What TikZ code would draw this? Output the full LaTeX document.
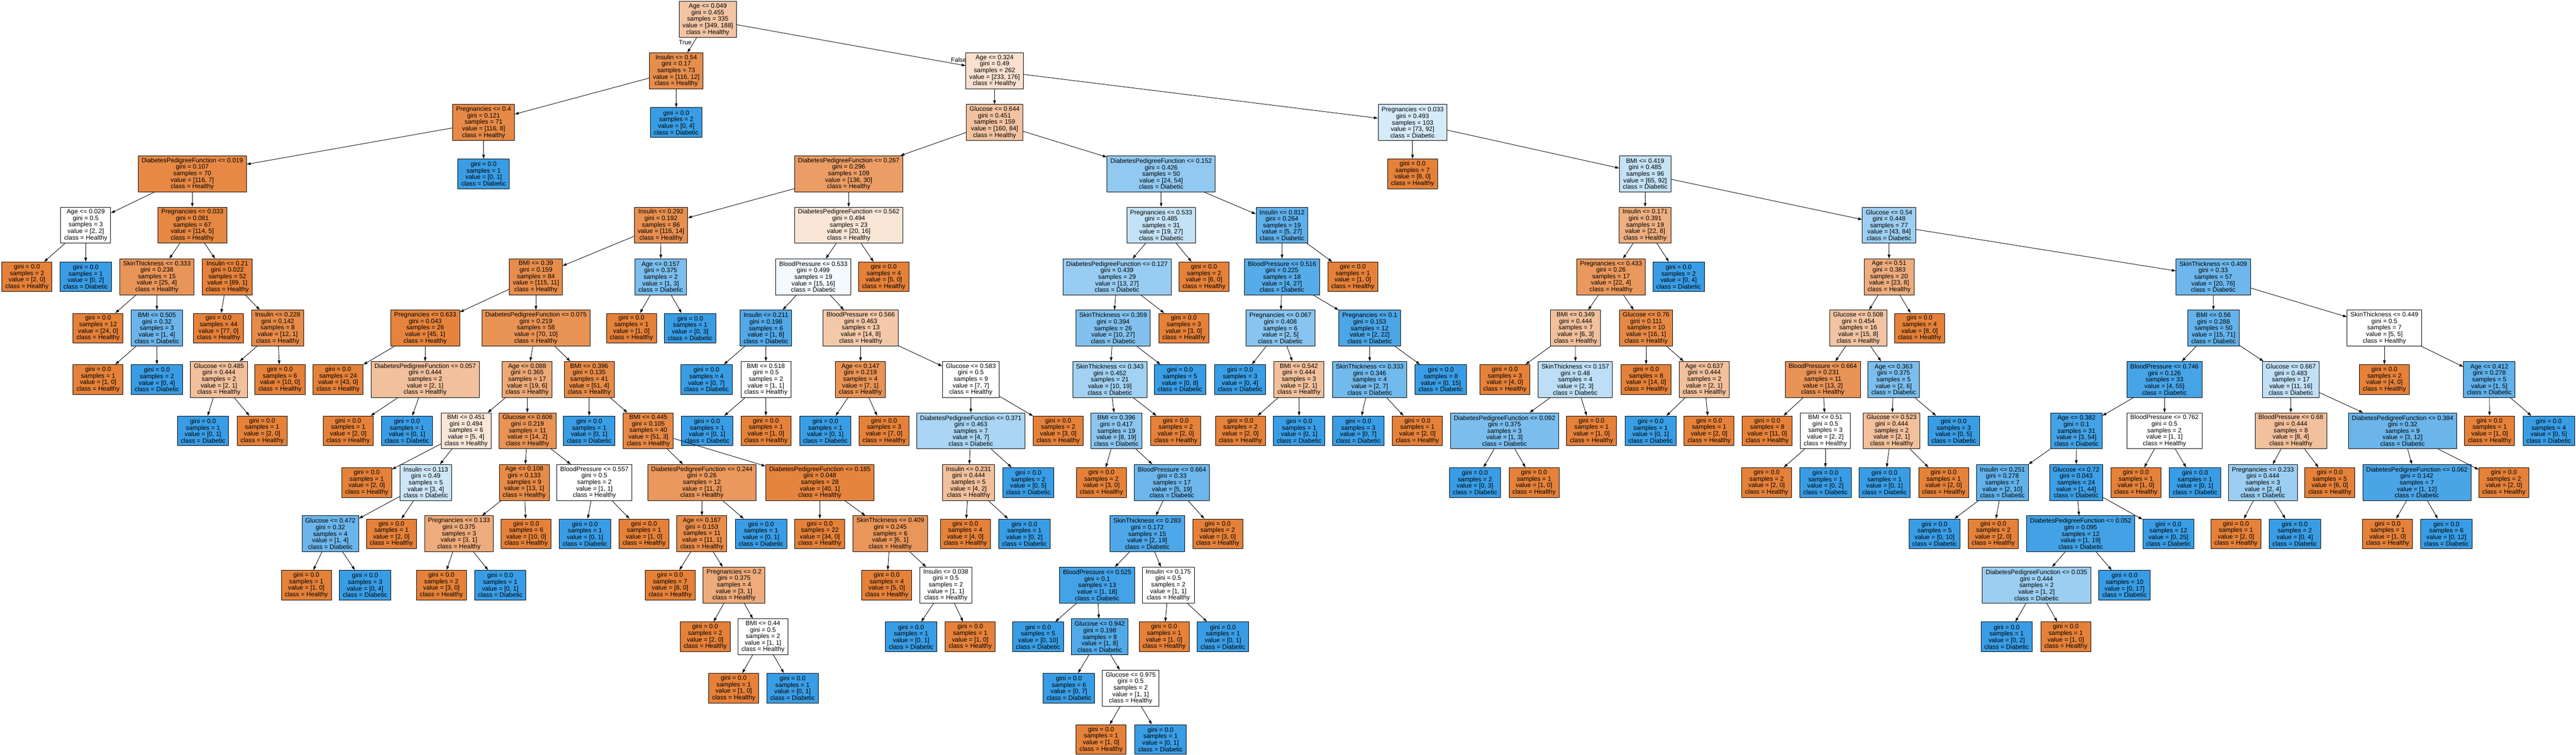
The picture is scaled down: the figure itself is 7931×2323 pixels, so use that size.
\documentclass[tikz,border=0pt]{standalone}
\usepackage{fontspec}
\setmainfont{Liberation Sans}
\usetikzlibrary{shapes,arrows.meta}
\definecolor{healthy}{RGB}{229,129,57}
\definecolor{diabetic}{RGB}{57,157,229}

\begin{document}
\begin{tikzpicture}[x=0.02cm, y=-0.02cm]
	\tikzset{split/.style={rectangle, draw, line width=0.8pt, align=center, font=\fontsize{11.1}{11.4}\selectfont, inner xsep=6pt, inner ysep=0pt, minimum height=63pt}};
	\tikzset{leaf/.style={split, minimum height=52pt}};
	\tikzset{tag/.style={font=\fontsize{11.1}{11.4}\selectfont}};
	\tikzset{val/.code 2 args={\pgfmathsetmacro\fillpct{100*abs(#1-#2)/max(#1,#2)}\ifnum#1<#2\relax\def\filltone{diabetic}\else\def\filltone{healthy}\fi\edef\setfill{\noexpand\pgfkeysalso{fill=\filltone!\fillpct!white}}\setfill}};
	\tikzset{edge/.style={line width=0.8pt, -{Triangle[length=7pt, width=4.6pt]}}};
	\path [use as bounding box, fill=white] (0,0) rectangle (7931,2323);

	% Place nodes
	% level 0
	\node [split, val={349}{188}] (a1) at (2179,60) {Age <= 0.049\\gini = 0.455\\samples = 335\\value = [349, 188]\\class = Healthy};
	% level 1
	\node [split, val={116}{12}] (b1) at (2082,218) {Insulin <= 0.54\\gini = 0.17\\samples = 73\\value = [116, 12]\\class = Healthy};
	\draw [edge] (a1) -- node[tag, left, pos=0.3] {True} (b1);
	\node [split, val={233}{176}] (b2) at (3062,218) {Age <= 0.324\\gini = 0.49\\samples = 262\\value = [233, 176]\\class = Healthy};
	\draw [edge] (a1) -- node[tag, above, pos=0.97] {False} (b2);
	% level 2
	\node [split, val={116}{8}] (c1) at (1489,377) {Pregnancies <= 0.4\\gini = 0.121\\samples = 71\\value = [116, 8]\\class = Healthy};
	\draw [edge] (b1) -- (c1);
	\node [leaf, val={0}{4}] (c2) at (2082,377) {gini = 0.0\\samples = 2\\value = [0, 4]\\class = Diabetic};
	\draw [edge] (b1) -- (c2);
	\node [split, val={160}{84}] (c3) at (3062,377) {Glucose <= 0.644\\gini = 0.451\\samples = 159\\value = [160, 84]\\class = Healthy};
	\draw [edge] (b2) -- (c3);
	\node [split, val={73}{92}] (c4) at (4349,377) {Pregnancies <= 0.033\\gini = 0.493\\samples = 103\\value = [73, 92]\\class = Diabetic};
	\draw [edge] (b2) -- (c4);
	% level 3
	\node [split, val={116}{7}] (d1) at (592,535) {DiabetesPedigreeFunction <= 0.019\\gini = 0.107\\samples = 70\\value = [116, 7]\\class = Healthy};
	\draw [edge] (c1) -- (d1);
	\node [leaf, val={0}{1}] (d2) at (1489,535) {gini = 0.0\\samples = 1\\value = [0, 1]\\class = Diabetic};
	\draw [edge] (c1) -- (d2);
	\node [split, val={136}{30}] (d3) at (2613,535) {DiabetesPedigreeFunction <= 0.267\\gini = 0.296\\samples = 109\\value = [136, 30]\\class = Healthy};
	\draw [edge] (c3) -- (d3);
	\node [split, val={24}{54}] (d4) at (3575,535) {DiabetesPedigreeFunction <= 0.152\\gini = 0.426\\samples = 50\\value = [24, 54]\\class = Diabetic};
	\draw [edge] (c3) -- (d4);
	\node [leaf, val={8}{0}] (d5) at (4349,535) {gini = 0.0\\samples = 7\\value = [8, 0]\\class = Healthy};
	\draw [edge] (c4) -- (d5);
	\node [split, val={65}{92}] (d6) at (5065,535) {BMI <= 0.419\\gini = 0.485\\samples = 96\\value = [65, 92]\\class = Diabetic};
	\draw [edge] (c4) -- (d6);
	% level 4
	\node [split, val={2}{2}] (e1) at (264,693) {Age <= 0.029\\gini = 0.5\\samples = 3\\value = [2, 2]\\class = Healthy};
	\draw [edge] (d1) -- (e1);
	\node [split, val={114}{5}] (e2) at (592,693) {Pregnancies <= 0.033\\gini = 0.081\\samples = 67\\value = [114, 5]\\class = Healthy};
	\draw [edge] (d1) -- (e2);
	\node [split, val={116}{14}] (e3) at (2035,693) {Insulin <= 0.292\\gini = 0.192\\samples = 86\\value = [116, 14]\\class = Healthy};
	\draw [edge] (d3) -- (e3);
	\node [split, val={20}{16}] (e4) at (2613,693) {DiabetesPedigreeFunction <= 0.562\\gini = 0.494\\samples = 23\\value = [20, 16]\\class = Healthy};
	\draw [edge] (d3) -- (e4);
	\node [split, val={19}{27}] (e5) at (3575,693) {Pregnancies <= 0.533\\gini = 0.485\\samples = 31\\value = [19, 27]\\class = Diabetic};
	\draw [edge] (d4) -- (e5);
	\node [split, val={5}{27}] (e6) at (3947,693) {Insulin <= 0.812\\gini = 0.264\\samples = 19\\value = [5, 27]\\class = Diabetic};
	\draw [edge] (d4) -- (e6);
	\node [split, val={22}{8}] (e7) at (5065,693) {Insulin <= 0.171\\gini = 0.391\\samples = 19\\value = [22, 8]\\class = Healthy};
	\draw [edge] (d6) -- (e7);
	\node [split, val={43}{84}] (e8) at (5816,693) {Glucose <= 0.54\\gini = 0.448\\samples = 77\\value = [43, 84]\\class = Diabetic};
	\draw [edge] (d6) -- (e8);
	% level 5
	\node [leaf, val={2}{0}] (f1) at (83,852) {gini = 0.0\\samples = 2\\value = [2, 0]\\class = Healthy};
	\draw [edge] (e1) -- (f1);
	\node [leaf, val={0}{2}] (f2) at (264,852) {gini = 0.0\\samples = 1\\value = [0, 2]\\class = Diabetic};
	\draw [edge] (e1) -- (f2);
	\node [split, val={25}{4}] (f3) at (483,852) {SkinThickness <= 0.333\\gini = 0.238\\samples = 15\\value = [25, 4]\\class = Healthy};
	\draw [edge] (e2) -- (f3);
	\node [split, val={89}{1}] (f4) at (700,852) {Insulin <= 0.21\\gini = 0.022\\samples = 52\\value = [89, 1]\\class = Healthy};
	\draw [edge] (e2) -- (f4);
	\node [split, val={115}{11}] (f5) at (1650,852) {BMI <= 0.39\\gini = 0.159\\samples = 84\\value = [115, 11]\\class = Healthy};
	\draw [edge] (e3) -- (f5);
	\node [split, val={1}{3}] (f6) at (2034,852) {Age <= 0.157\\gini = 0.375\\samples = 2\\value = [1, 3]\\class = Diabetic};
	\draw [edge] (e3) -- (f6);
	\node [split, val={15}{16}] (f7) at (2504,852) {BloodPressure <= 0.533\\gini = 0.499\\samples = 19\\value = [15, 16]\\class = Diabetic};
	\draw [edge] (e4) -- (f7);
	\node [leaf, val={5}{0}] (f8) at (2721,852) {gini = 0.0\\samples = 4\\value = [5, 0]\\class = Healthy};
	\draw [edge] (e4) -- (f8);
	\node [split, val={13}{27}] (f9) at (3439,852) {DiabetesPedigreeFunction <= 0.127\\gini = 0.439\\samples = 29\\value = [13, 27]\\class = Diabetic};
	\draw [edge] (e5) -- (f9);
	\node [leaf, val={6}{0}] (f10) at (3707,852) {gini = 0.0\\samples = 2\\value = [6, 0]\\class = Healthy};
	\draw [edge] (e5) -- (f10);
	\node [split, val={4}{27}] (f11) at (3947,852) {BloodPressure <= 0.516\\gini = 0.225\\samples = 18\\value = [4, 27]\\class = Diabetic};
	\draw [edge] (e6) -- (f11);
	\node [leaf, val={1}{0}] (f12) at (4165,852) {gini = 0.0\\samples = 1\\value = [1, 0]\\class = Healthy};
	\draw [edge] (e6) -- (f12);
	\node [split, val={22}{4}] (f13) at (4960,852) {Pregnancies <= 0.433\\gini = 0.26\\samples = 17\\value = [22, 4]\\class = Healthy};
	\draw [edge] (e7) -- (f13);
	\node [leaf, val={0}{4}] (f14) at (5168,852) {gini = 0.0\\samples = 2\\value = [0, 4]\\class = Diabetic};
	\draw [edge] (e7) -- (f14);
	\node [split, val={23}{8}] (f15) at (5816,852) {Age <= 0.51\\gini = 0.383\\samples = 20\\value = [23, 8]\\class = Healthy};
	\draw [edge] (e8) -- (f15);
	\node [split, val={20}{76}] (f16) at (6814,852) {SkinThickness <= 0.409\\gini = 0.33\\samples = 57\\value = [20, 76]\\class = Diabetic};
	\draw [edge] (e8) -- (f16);
	% level 6
	\node [leaf, val={24}{0}] (g1) at (302,1010) {gini = 0.0\\samples = 12\\value = [24, 0]\\class = Healthy};
	\draw [edge] (f3) -- (g1);
	\node [split, val={1}{4}] (g2) at (483,1010) {BMI <= 0.505\\gini = 0.32\\samples = 3\\value = [1, 4]\\class = Diabetic};
	\draw [edge] (f3) -- (g2);
	\node [leaf, val={77}{0}] (g3) at (673,1010) {gini = 0.0\\samples = 44\\value = [77, 0]\\class = Healthy};
	\draw [edge] (f4) -- (g3);
	\node [split, val={12}{1}] (g4) at (855,1010) {Insulin <= 0.228\\gini = 0.142\\samples = 8\\value = [12, 1]\\class = Healthy};
	\draw [edge] (f4) -- (g4);
	\node [split, val={45}{1}] (g5) at (1309,1010) {Pregnancies <= 0.633\\gini = 0.043\\samples = 26\\value = [45, 1]\\class = Healthy};
	\draw [edge] (f5) -- (g5);
	\node [split, val={70}{10}] (g6) at (1650,1010) {DiabetesPedigreeFunction <= 0.075\\gini = 0.219\\samples = 58\\value = [70, 10]\\class = Healthy};
	\draw [edge] (f5) -- (g6);
	\node [leaf, val={1}{0}] (g7) at (1944,1010) {gini = 0.0\\samples = 1\\value = [1, 0]\\class = Healthy};
	\draw [edge] (f6) -- (g7);
	\node [leaf, val={0}{3}] (g8) at (2125,1010) {gini = 0.0\\samples = 1\\value = [0, 3]\\class = Diabetic};
	\draw [edge] (f6) -- (g8);
	\node [split, val={1}{8}] (g9) at (2358,1010) {Insulin <= 0.211\\gini = 0.198\\samples = 6\\value = [1, 8]\\class = Diabetic};
	\draw [edge] (f7) -- (g9);
	\node [split, val={14}{8}] (g10) at (2650,1010) {BloodPressure <= 0.566\\gini = 0.463\\samples = 13\\value = [14, 8]\\class = Healthy};
	\draw [edge] (f7) -- (g10);
	\node [split, val={10}{27}] (g11) at (3427,1010) {SkinThickness <= 0.359\\gini = 0.394\\samples = 26\\value = [10, 27]\\class = Diabetic};
	\draw [edge] (f9) -- (g11);
	\node [leaf, val={3}{0}] (g12) at (3645,1010) {gini = 0.0\\samples = 3\\value = [3, 0]\\class = Healthy};
	\draw [edge] (f9) -- (g12);
	\node [split, val={2}{5}] (g13) at (3942,1010) {Pregnancies <= 0.067\\gini = 0.408\\samples = 6\\value = [2, 5]\\class = Diabetic};
	\draw [edge] (f11) -- (g13);
	\node [split, val={2}{22}] (g14) at (4217,1010) {Pregnancies <= 0.1\\gini = 0.153\\samples = 12\\value = [2, 22]\\class = Diabetic};
	\draw [edge] (f11) -- (g14);
	\node [split, val={6}{3}] (g15) at (4851,1010) {BMI <= 0.349\\gini = 0.444\\samples = 7\\value = [6, 3]\\class = Healthy};
	\draw [edge] (f13) -- (g15);
	\node [split, val={16}{1}] (g16) at (5068,1010) {Glucose <= 0.76\\gini = 0.111\\samples = 10\\value = [16, 1]\\class = Healthy};
	\draw [edge] (f13) -- (g16);
	\node [split, val={15}{8}] (g17) at (5721,1010) {Glucose <= 0.508\\gini = 0.454\\samples = 16\\value = [15, 8]\\class = Healthy};
	\draw [edge] (f15) -- (g17);
	\node [leaf, val={8}{0}] (g18) at (5910,1010) {gini = 0.0\\samples = 4\\value = [8, 0]\\class = Healthy};
	\draw [edge] (f15) -- (g18);
	\node [split, val={15}{71}] (g19) at (6815,1010) {BMI <= 0.56\\gini = 0.288\\samples = 50\\value = [15, 71]\\class = Diabetic};
	\draw [edge] (f16) -- (g19);
	\node [split, val={5}{5}] (g20) at (7341,1010) {SkinThickness <= 0.449\\gini = 0.5\\samples = 7\\value = [5, 5]\\class = Healthy};
	\draw [edge] (f16) -- (g20);
	% level 7
	\node [leaf, val={1}{0}] (h1) at (302,1168) {gini = 0.0\\samples = 1\\value = [1, 0]\\class = Healthy};
	\draw [edge] (g2) -- (h1);
	\node [leaf, val={0}{4}] (h2) at (483,1168) {gini = 0.0\\samples = 2\\value = [0, 4]\\class = Diabetic};
	\draw [edge] (g2) -- (h2);
	\node [split, val={2}{1}] (h3) at (674,1168) {Glucose <= 0.485\\gini = 0.444\\samples = 2\\value = [2, 1]\\class = Healthy};
	\draw [edge] (g4) -- (h3);
	\node [leaf, val={10}{0}] (h4) at (862,1168) {gini = 0.0\\samples = 6\\value = [10, 0]\\class = Healthy};
	\draw [edge] (g4) -- (h4);
	\node [leaf, val={43}{0}] (h5) at (1041,1168) {gini = 0.0\\samples = 24\\value = [43, 0]\\class = Healthy};
	\draw [edge] (g5) -- (h5);
	\node [split, val={2}{1}] (h6) at (1309,1168) {DiabetesPedigreeFunction <= 0.057\\gini = 0.444\\samples = 2\\value = [2, 1]\\class = Healthy};
	\draw [edge] (g5) -- (h6);
	\node [split, val={19}{6}] (h7) at (1623,1168) {Age <= 0.088\\gini = 0.365\\samples = 17\\value = [19, 6]\\class = Healthy};
	\draw [edge] (g6) -- (h7);
	\node [split, val={51}{4}] (h8) at (1814,1168) {BMI <= 0.396\\gini = 0.135\\samples = 41\\value = [51, 4]\\class = Healthy};
	\draw [edge] (g6) -- (h8);
	\node [leaf, val={0}{7}] (h9) at (2175,1168) {gini = 0.0\\samples = 4\\value = [0, 7]\\class = Diabetic};
	\draw [edge] (g9) -- (h9);
	\node [split, val={1}{1}] (h10) at (2358,1168) {BMI <= 0.518\\gini = 0.5\\samples = 2\\value = [1, 1]\\class = Healthy};
	\draw [edge] (g9) -- (h10);
	\node [split, val={7}{1}] (h11) at (2649,1168) {Age <= 0.147\\gini = 0.219\\samples = 4\\value = [7, 1]\\class = Healthy};
	\draw [edge] (g10) -- (h11);
	\node [split, val={7}{7}] (h12) at (2989,1168) {Glucose <= 0.583\\gini = 0.5\\samples = 9\\value = [7, 7]\\class = Healthy};
	\draw [edge] (g10) -- (h12);
	\node [split, val={10}{19}] (h13) at (3417,1168) {SkinThickness <= 0.343\\gini = 0.452\\samples = 21\\value = [10, 19]\\class = Diabetic};
	\draw [edge] (g11) -- (h13);
	\node [leaf, val={0}{8}] (h14) at (3633,1168) {gini = 0.0\\samples = 5\\value = [0, 8]\\class = Diabetic};
	\draw [edge] (g11) -- (h14);
	\node [leaf, val={0}{4}] (h15) at (3818,1168) {gini = 0.0\\samples = 3\\value = [0, 4]\\class = Diabetic};
	\draw [edge] (g13) -- (h15);
	\node [split, val={2}{1}] (h16) at (3999,1168) {BMI <= 0.542\\gini = 0.444\\samples = 3\\value = [2, 1]\\class = Healthy};
	\draw [edge] (g13) -- (h16);
	\node [split, val={2}{7}] (h17) at (4217,1168) {SkinThickness <= 0.333\\gini = 0.346\\samples = 4\\value = [2, 7]\\class = Diabetic};
	\draw [edge] (g14) -- (h17);
	\node [leaf, val={0}{15}] (h18) at (4436,1168) {gini = 0.0\\samples = 8\\value = [0, 15]\\class = Diabetic};
	\draw [edge] (g14) -- (h18);
	\node [leaf, val={4}{0}] (h19) at (4633,1168) {gini = 0.0\\samples = 3\\value = [4, 0]\\class = Healthy};
	\draw [edge] (g15) -- (h19);
	\node [split, val={2}{3}] (h20) at (4850,1168) {SkinThickness <= 0.157\\gini = 0.48\\samples = 4\\value = [2, 3]\\class = Diabetic};
	\draw [edge] (g15) -- (h20);
	\node [leaf, val={14}{0}] (h21) at (5068,1168) {gini = 0.0\\samples = 8\\value = [14, 0]\\class = Healthy};
	\draw [edge] (g16) -- (h21);
	\node [split, val={2}{1}] (h22) at (5247,1168) {Age <= 0.637\\gini = 0.444\\samples = 2\\value = [2, 1]\\class = Healthy};
	\draw [edge] (g16) -- (h22);
	\node [split, val={13}{2}] (h23) at (5612,1168) {BloodPressure <= 0.664\\gini = 0.231\\samples = 11\\value = [13, 2]\\class = Healthy};
	\draw [edge] (g17) -- (h23);
	\node [split, val={2}{6}] (h24) at (5830,1168) {Age <= 0.363\\gini = 0.375\\samples = 5\\value = [2, 6]\\class = Diabetic};
	\draw [edge] (g17) -- (h24);
	\node [split, val={4}{55}] (h25) at (6664,1168) {BloodPressure <= 0.746\\gini = 0.126\\samples = 33\\value = [4, 55]\\class = Diabetic};
	\draw [edge] (g19) -- (h25);
	\node [split, val={11}{16}] (h26) at (7053,1168) {Glucose <= 0.667\\gini = 0.483\\samples = 17\\value = [11, 16]\\class = Diabetic};
	\draw [edge] (g19) -- (h26);
	\node [leaf, val={4}{0}] (h27) at (7341,1168) {gini = 0.0\\samples = 2\\value = [4, 0]\\class = Healthy};
	\draw [edge] (g20) -- (h27);
	\node [split, val={1}{5}] (h28) at (7664,1168) {Age <= 0.412\\gini = 0.278\\samples = 5\\value = [1, 5]\\class = Diabetic};
	\draw [edge] (g20) -- (h28);
	% level 8
	\node [leaf, val={0}{1}] (i1) at (625,1326) {gini = 0.0\\samples = 1\\value = [0, 1]\\class = Diabetic};
	\draw [edge] (h3) -- (i1);
	\node [leaf, val={2}{0}] (i2) at (807,1326) {gini = 0.0\\samples = 1\\value = [2, 0]\\class = Healthy};
	\draw [edge] (h3) -- (i2);
	\node [leaf, val={2}{0}] (i3) at (1072,1326) {gini = 0.0\\samples = 1\\value = [2, 0]\\class = Healthy};
	\draw [edge] (h6) -- (i3);
	\node [leaf, val={0}{1}] (i4) at (1253,1326) {gini = 0.0\\samples = 1\\value = [0, 1]\\class = Diabetic};
	\draw [edge] (h6) -- (i4);
	\node [split, val={5}{4}] (i5) at (1435,1326) {BMI <= 0.451\\gini = 0.494\\samples = 6\\value = [5, 4]\\class = Healthy};
	\draw [edge] (h7) -- (i5);
	\node [split, val={14}{2}] (i6) at (1624,1326) {Glucose <= 0.606\\gini = 0.219\\samples = 11\\value = [14, 2]\\class = Healthy};
	\draw [edge] (h7) -- (i6);
	\node [leaf, val={0}{1}] (i7) at (1814,1326) {gini = 0.0\\samples = 1\\value = [0, 1]\\class = Diabetic};
	\draw [edge] (h8) -- (i7);
	\node [split, val={51}{3}] (i8) at (1996,1326) {BMI <= 0.445\\gini = 0.105\\samples = 40\\value = [51, 3]\\class = Healthy};
	\draw [edge] (h8) -- (i8);
	\node [leaf, val={0}{1}] (i9) at (2177,1326) {gini = 0.0\\samples = 1\\value = [0, 1]\\class = Diabetic};
	\draw [edge] (h10) -- (i9);
	\node [leaf, val={1}{0}] (i10) at (2358,1326) {gini = 0.0\\samples = 1\\value = [1, 0]\\class = Healthy};
	\draw [edge] (h10) -- (i10);
	\node [leaf, val={0}{1}] (i11) at (2541,1326) {gini = 0.0\\samples = 1\\value = [0, 1]\\class = Diabetic};
	\draw [edge] (h11) -- (i11);
	\node [leaf, val={7}{0}] (i12) at (2722,1326) {gini = 0.0\\samples = 3\\value = [7, 0]\\class = Healthy};
	\draw [edge] (h11) -- (i12);
	\node [split, val={4}{7}] (i13) at (2989,1326) {DiabetesPedigreeFunction <= 0.371\\gini = 0.463\\samples = 7\\value = [4, 7]\\class = Diabetic};
	\draw [edge] (h12) -- (i13);
	\node [leaf, val={3}{0}] (i14) at (3258,1326) {gini = 0.0\\samples = 2\\value = [3, 0]\\class = Healthy};
	\draw [edge] (h12) -- (i14);
	\node [split, val={8}{19}] (i15) at (3437,1326) {BMI <= 0.396\\gini = 0.417\\samples = 19\\value = [8, 19]\\class = Diabetic};
	\draw [edge] (h13) -- (i15);
	\node [leaf, val={2}{0}] (i16) at (3620,1326) {gini = 0.0\\samples = 2\\value = [2, 0]\\class = Healthy};
	\draw [edge] (h13) -- (i16);
	\node [leaf, val={2}{0}] (i17) at (3819,1326) {gini = 0.0\\samples = 2\\value = [2, 0]\\class = Healthy};
	\draw [edge] (h16) -- (i17);
	\node [leaf, val={0}{1}] (i18) at (4000,1326) {gini = 0.0\\samples = 1\\value = [0, 1]\\class = Diabetic};
	\draw [edge] (h16) -- (i18);
	\node [leaf, val={0}{7}] (i19) at (4182,1326) {gini = 0.0\\samples = 3\\value = [0, 7]\\class = Diabetic};
	\draw [edge] (h17) -- (i19);
	\node [leaf, val={2}{0}] (i20) at (4364,1326) {gini = 0.0\\samples = 1\\value = [2, 0]\\class = Healthy};
	\draw [edge] (h17) -- (i20);
	\node [split, val={1}{3}] (i21) at (4632,1326) {DiabetesPedigreeFunction <= 0.092\\gini = 0.375\\samples = 3\\value = [1, 3]\\class = Diabetic};
	\draw [edge] (h20) -- (i21);
	\node [leaf, val={1}{0}] (i22) at (4900,1326) {gini = 0.0\\samples = 1\\value = [1, 0]\\class = Healthy};
	\draw [edge] (h20) -- (i22);
	\node [leaf, val={0}{1}] (i23) at (5082,1326) {gini = 0.0\\samples = 1\\value = [0, 1]\\class = Diabetic};
	\draw [edge] (h22) -- (i23);
	\node [leaf, val={2}{0}] (i24) at (5262,1326) {gini = 0.0\\samples = 1\\value = [2, 0]\\class = Healthy};
	\draw [edge] (h22) -- (i24);
	\node [leaf, val={11}{0}] (i25) at (5441,1326) {gini = 0.0\\samples = 8\\value = [11, 0]\\class = Healthy};
	\draw [edge] (h23) -- (i25);
	\node [split, val={2}{2}] (i26) at (5620,1326) {BMI <= 0.51\\gini = 0.5\\samples = 3\\value = [2, 2]\\class = Healthy};
	\draw [edge] (h23) -- (i26);
	\node [split, val={2}{1}] (i27) at (5824,1326) {Glucose <= 0.523\\gini = 0.444\\samples = 2\\value = [2, 1]\\class = Healthy};
	\draw [edge] (h24) -- (i27);
	\node [leaf, val={0}{5}] (i28) at (6015,1326) {gini = 0.0\\samples = 3\\value = [0, 5]\\class = Diabetic};
	\draw [edge] (h24) -- (i28);
	\node [split, val={3}{54}] (i29) at (6393,1326) {Age <= 0.382\\gini = 0.1\\samples = 31\\value = [3, 54]\\class = Diabetic};
	\draw [edge] (h25) -- (i29);
	\node [split, val={1}{1}] (i30) at (6664,1326) {BloodPressure <= 0.762\\gini = 0.5\\samples = 2\\value = [1, 1]\\class = Healthy};
	\draw [edge] (h25) -- (i30);
	\node [split, val={8}{4}] (i31) at (7053,1326) {BloodPressure <= 0.68\\gini = 0.444\\samples = 8\\value = [8, 4]\\class = Healthy};
	\draw [edge] (h26) -- (i31);
	\node [split, val={3}{12}] (i32) at (7397,1326) {DiabetesPedigreeFunction <= 0.384\\gini = 0.32\\samples = 9\\value = [3, 12]\\class = Diabetic};
	\draw [edge] (h26) -- (i32);
	\node [leaf, val={1}{0}] (i33) at (7665,1326) {gini = 0.0\\samples = 1\\value = [1, 0]\\class = Healthy};
	\draw [edge] (h28) -- (i33);
	\node [leaf, val={0}{5}] (i34) at (7847,1326) {gini = 0.0\\samples = 4\\value = [0, 5]\\class = Diabetic};
	\draw [edge] (h28) -- (i34);
	% level 9
	\node [leaf, val={2}{0}] (j1) at (1129,1485) {gini = 0.0\\samples = 1\\value = [2, 0]\\class = Healthy};
	\draw [edge] (i5) -- (j1);
	\node [split, val={3}{4}] (j2) at (1311,1485) {Insulin <= 0.113\\gini = 0.49\\samples = 5\\value = [3, 4]\\class = Diabetic};
	\draw [edge] (i5) -- (j2);
	\node [split, val={13}{1}] (j3) at (1614,1485) {Age <= 0.108\\gini = 0.133\\samples = 9\\value = [13, 1]\\class = Healthy};
	\draw [edge] (i6) -- (j3);
	\node [split, val={1}{1}] (j4) at (1830,1485) {BloodPressure <= 0.557\\gini = 0.5\\samples = 2\\value = [1, 1]\\class = Healthy};
	\draw [edge] (i6) -- (j4);
	\node [split, val={11}{2}] (j5) at (2161,1485) {DiabetesPedigreeFunction <= 0.244\\gini = 0.26\\samples = 12\\value = [11, 2]\\class = Healthy};
	\draw [edge] (i8) -- (j5);
	\node [split, val={40}{1}] (j6) at (2524,1485) {DiabetesPedigreeFunction <= 0.185\\gini = 0.048\\samples = 28\\value = [40, 1]\\class = Healthy};
	\draw [edge] (i8) -- (j6);
	\node [split, val={4}{2}] (j7) at (2982,1485) {Insulin <= 0.231\\gini = 0.444\\samples = 5\\value = [4, 2]\\class = Healthy};
	\draw [edge] (i13) -- (j7);
	\node [leaf, val={0}{5}] (j8) at (3166,1485) {gini = 0.0\\samples = 2\\value = [0, 5]\\class = Diabetic};
	\draw [edge] (i13) -- (j8);
	\node [leaf, val={3}{0}] (j9) at (3391,1485) {gini = 0.0\\samples = 2\\value = [3, 0]\\class = Healthy};
	\draw [edge] (i15) -- (j9);
	\node [split, val={5}{19}] (j10) at (3608,1485) {BloodPressure <= 0.664\\gini = 0.33\\samples = 17\\value = [5, 19]\\class = Diabetic};
	\draw [edge] (i15) -- (j10);
	\node [leaf, val={0}{3}] (j11) at (4541,1485) {gini = 0.0\\samples = 2\\value = [0, 3]\\class = Diabetic};
	\draw [edge] (i21) -- (j11);
	\node [leaf, val={1}{0}] (j12) at (4723,1485) {gini = 0.0\\samples = 1\\value = [1, 0]\\class = Healthy};
	\draw [edge] (i21) -- (j12);
	\node [leaf, val={2}{0}] (j13) at (5439,1485) {gini = 0.0\\samples = 2\\value = [2, 0]\\class = Healthy};
	\draw [edge] (i26) -- (j13);
	\node [leaf, val={0}{2}] (j14) at (5620,1485) {gini = 0.0\\samples = 1\\value = [0, 2]\\class = Diabetic};
	\draw [edge] (i26) -- (j14);
	\node [leaf, val={0}{1}] (j15) at (5802,1485) {gini = 0.0\\samples = 1\\value = [0, 1]\\class = Diabetic};
	\draw [edge] (i27) -- (j15);
	\node [leaf, val={2}{0}] (j16) at (5984,1485) {gini = 0.0\\samples = 1\\value = [2, 0]\\class = Healthy};
	\draw [edge] (i27) -- (j16);
	\node [split, val={2}{10}] (j17) at (6165,1485) {Insulin <= 0.251\\gini = 0.278\\samples = 7\\value = [2, 10]\\class = Diabetic};
	\draw [edge] (i29) -- (j17);
	\node [split, val={1}{44}] (j18) at (6392,1485) {Glucose <= 0.72\\gini = 0.043\\samples = 24\\value = [1, 44]\\class = Diabetic};
	\draw [edge] (i29) -- (j18);
	\node [leaf, val={1}{0}] (j19) at (6576,1485) {gini = 0.0\\samples = 1\\value = [1, 0]\\class = Healthy};
	\draw [edge] (i30) -- (j19);
	\node [leaf, val={0}{1}] (j20) at (6758,1485) {gini = 0.0\\samples = 1\\value = [0, 1]\\class = Diabetic};
	\draw [edge] (i30) -- (j20);
	\node [split, val={2}{4}] (j21) at (6967,1485) {Pregnancies <= 0.233\\gini = 0.444\\samples = 3\\value = [2, 4]\\class = Diabetic};
	\draw [edge] (i31) -- (j21);
	\node [leaf, val={6}{0}] (j22) at (7173,1485) {gini = 0.0\\samples = 5\\value = [6, 0]\\class = Healthy};
	\draw [edge] (i31) -- (j22);
	\node [split, val={1}{12}] (j23) at (7441,1485) {DiabetesPedigreeFunction <= 0.062\\gini = 0.142\\samples = 7\\value = [1, 12]\\class = Diabetic};
	\draw [edge] (i32) -- (j23);
	\node [leaf, val={2}{0}] (j24) at (7709,1485) {gini = 0.0\\samples = 2\\value = [2, 0]\\class = Healthy};
	\draw [edge] (i32) -- (j24);
	% level 10
	\node [split, val={1}{4}] (k1) at (1017,1643) {Glucose <= 0.472\\gini = 0.32\\samples = 4\\value = [1, 4]\\class = Diabetic};
	\draw [edge] (j2) -- (k1);
	\node [leaf, val={2}{0}] (k2) at (1205,1643) {gini = 0.0\\samples = 1\\value = [2, 0]\\class = Healthy};
	\draw [edge] (j2) -- (k2);
	\node [split, val={3}{1}] (k3) at (1413,1643) {Pregnancies <= 0.133\\gini = 0.375\\samples = 3\\value = [3, 1]\\class = Healthy};
	\draw [edge] (j3) -- (k3);
	\node [leaf, val={10}{0}] (k4) at (1620,1643) {gini = 0.0\\samples = 6\\value = [10, 0]\\class = Healthy};
	\draw [edge] (j3) -- (k4);
	\node [leaf, val={0}{1}] (k5) at (1801,1643) {gini = 0.0\\samples = 1\\value = [0, 1]\\class = Diabetic};
	\draw [edge] (j4) -- (k5);
	\node [leaf, val={1}{0}] (k6) at (1983,1643) {gini = 0.0\\samples = 1\\value = [1, 0]\\class = Healthy};
	\draw [edge] (j4) -- (k6);
	\node [split, val={11}{1}] (k7) at (2161,1643) {Age <= 0.167\\gini = 0.153\\samples = 11\\value = [11, 1]\\class = Healthy};
	\draw [edge] (j5) -- (k7);
	\node [leaf, val={0}{1}] (k8) at (2343,1643) {gini = 0.0\\samples = 1\\value = [0, 1]\\class = Diabetic};
	\draw [edge] (j5) -- (k8);
	\node [leaf, val={34}{0}] (k9) at (2524,1643) {gini = 0.0\\samples = 22\\value = [34, 0]\\class = Healthy};
	\draw [edge] (j6) -- (k9);
	\node [split, val={6}{1}] (k10) at (2741,1643) {SkinThickness <= 0.409\\gini = 0.245\\samples = 6\\value = [6, 1]\\class = Healthy};
	\draw [edge] (j6) -- (k10);
	\node [leaf, val={4}{0}] (k11) at (2972,1643) {gini = 0.0\\samples = 4\\value = [4, 0]\\class = Healthy};
	\draw [edge] (j7) -- (k11);
	\node [leaf, val={0}{2}] (k12) at (3154,1643) {gini = 0.0\\samples = 1\\value = [0, 2]\\class = Diabetic};
	\draw [edge] (j7) -- (k12);
	\node [split, val={2}{19}] (k13) at (3532,1643) {SkinThickness <= 0.283\\gini = 0.172\\samples = 15\\value = [2, 19]\\class = Diabetic};
	\draw [edge] (j10) -- (k13);
	\node [leaf, val={3}{0}] (k14) at (3749,1643) {gini = 0.0\\samples = 2\\value = [3, 0]\\class = Healthy};
	\draw [edge] (j10) -- (k14);
	\node [leaf, val={0}{10}] (k15) at (5956,1643) {gini = 0.0\\samples = 5\\value = [0, 10]\\class = Diabetic};
	\draw [edge] (j17) -- (k15);
	\node [leaf, val={2}{0}] (k16) at (6137,1643) {gini = 0.0\\samples = 2\\value = [2, 0]\\class = Healthy};
	\draw [edge] (j17) -- (k16);
	\node [split, val={1}{19}] (k17) at (6406,1643) {DiabetesPedigreeFunction <= 0.052\\gini = 0.095\\samples = 12\\value = [1, 19]\\class = Diabetic};
	\draw [edge] (j18) -- (k17);
	\node [leaf, val={0}{25}] (k18) at (6676,1643) {gini = 0.0\\samples = 12\\value = [0, 25]\\class = Diabetic};
	\draw [edge] (j18) -- (k18);
	\node [leaf, val={2}{0}] (k19) at (6884,1643) {gini = 0.0\\samples = 1\\value = [2, 0]\\class = Healthy};
	\draw [edge] (j21) -- (k19);
	\node [leaf, val={0}{4}] (k20) at (7065,1643) {gini = 0.0\\samples = 2\\value = [0, 4]\\class = Diabetic};
	\draw [edge] (j21) -- (k20);
	\node [leaf, val={1}{0}] (k21) at (7351,1643) {gini = 0.0\\samples = 1\\value = [1, 0]\\class = Healthy};
	\draw [edge] (j23) -- (k21);
	\node [leaf, val={0}{12}] (k22) at (7532,1643) {gini = 0.0\\samples = 6\\value = [0, 12]\\class = Diabetic};
	\draw [edge] (j23) -- (k22);
	% level 11
	\node [leaf, val={1}{0}] (l1) at (943,1801) {gini = 0.0\\samples = 1\\value = [1, 0]\\class = Healthy};
	\draw [edge] (k1) -- (l1);
	\node [leaf, val={0}{4}] (l2) at (1124,1801) {gini = 0.0\\samples = 3\\value = [0, 4]\\class = Diabetic};
	\draw [edge] (k1) -- (l2);
	\node [leaf, val={3}{0}] (l3) at (1359,1801) {gini = 0.0\\samples = 2\\value = [3, 0]\\class = Healthy};
	\draw [edge] (k3) -- (l3);
	\node [leaf, val={0}{1}] (l4) at (1540,1801) {gini = 0.0\\samples = 1\\value = [0, 1]\\class = Diabetic};
	\draw [edge] (k3) -- (l4);
	\node [leaf, val={8}{0}] (l5) at (2063,1801) {gini = 0.0\\samples = 7\\value = [8, 0]\\class = Healthy};
	\draw [edge] (k7) -- (l5);
	\node [split, val={3}{1}] (l6) at (2260,1801) {Pregnancies <= 0.2\\gini = 0.375\\samples = 4\\value = [3, 1]\\class = Healthy};
	\draw [edge] (k7) -- (l6);
	\node [leaf, val={5}{0}] (l7) at (2730,1801) {gini = 0.0\\samples = 4\\value = [5, 0]\\class = Healthy};
	\draw [edge] (k10) -- (l7);
	\node [split, val={1}{1}] (l8) at (2912,1801) {Insulin <= 0.038\\gini = 0.5\\samples = 2\\value = [1, 1]\\class = Healthy};
	\draw [edge] (k10) -- (l8);
	\node [split, val={1}{18}] (l9) at (3378,1801) {BloodPressure <= 0.525\\gini = 0.1\\samples = 13\\value = [1, 18]\\class = Diabetic};
	\draw [edge] (k13) -- (l9);
	\node [split, val={1}{1}] (l10) at (3597,1801) {Insulin <= 0.175\\gini = 0.5\\samples = 2\\value = [1, 1]\\class = Healthy};
	\draw [edge] (k13) -- (l10);
	\node [split, val={1}{2}] (l11) at (6270,1801) {DiabetesPedigreeFunction <= 0.035\\gini = 0.444\\samples = 2\\value = [1, 2]\\class = Diabetic};
	\draw [edge] (k17) -- (l11);
	\node [leaf, val={0}{17}] (l12) at (6541,1801) {gini = 0.0\\samples = 10\\value = [0, 17]\\class = Diabetic};
	\draw [edge] (k17) -- (l12);
	% level 12
	\node [leaf, val={2}{0}] (m1) at (2171,1960) {gini = 0.0\\samples = 2\\value = [2, 0]\\class = Healthy};
	\draw [edge] (l6) -- (m1);
	\node [split, val={1}{1}] (m2) at (2349,1960) {BMI <= 0.44\\gini = 0.5\\samples = 2\\value = [1, 1]\\class = Healthy};
	\draw [edge] (l6) -- (m2);
	\node [leaf, val={0}{1}] (m3) at (2805,1960) {gini = 0.0\\samples = 1\\value = [0, 1]\\class = Diabetic};
	\draw [edge] (l8) -- (m3);
	\node [leaf, val={1}{0}] (m4) at (2987,1960) {gini = 0.0\\samples = 1\\value = [1, 0]\\class = Healthy};
	\draw [edge] (l8) -- (m4);
	\node [leaf, val={0}{10}] (m5) at (3196,1960) {gini = 0.0\\samples = 5\\value = [0, 10]\\class = Diabetic};
	\draw [edge] (l9) -- (m5);
	\node [split, val={1}{8}] (m6) at (3386,1960) {Glucose <= 0.942\\gini = 0.198\\samples = 8\\value = [1, 8]\\class = Diabetic};
	\draw [edge] (l9) -- (m6);
	\node [leaf, val={1}{0}] (m7) at (3584,1960) {gini = 0.0\\samples = 1\\value = [1, 0]\\class = Healthy};
	\draw [edge] (l10) -- (m7);
	\node [leaf, val={0}{1}] (m8) at (3765,1960) {gini = 0.0\\samples = 1\\value = [0, 1]\\class = Diabetic};
	\draw [edge] (l10) -- (m8);
	\node [leaf, val={0}{2}] (m9) at (6178,1960) {gini = 0.0\\samples = 1\\value = [0, 2]\\class = Diabetic};
	\draw [edge] (l11) -- (m9);
	\node [leaf, val={1}{0}] (m10) at (6360,1960) {gini = 0.0\\samples = 1\\value = [1, 0]\\class = Healthy};
	\draw [edge] (l11) -- (m10);
	% level 13
	\node [leaf, val={1}{0}] (n1) at (2259,2118) {gini = 0.0\\samples = 1\\value = [1, 0]\\class = Healthy};
	\draw [edge] (m2) -- (n1);
	\node [leaf, val={0}{1}] (n2) at (2440,2118) {gini = 0.0\\samples = 1\\value = [0, 1]\\class = Diabetic};
	\draw [edge] (m2) -- (n2);
	\node [leaf, val={0}{7}] (n3) at (3291,2118) {gini = 0.0\\samples = 6\\value = [0, 7]\\class = Diabetic};
	\draw [edge] (m6) -- (n3);
	\node [split, val={1}{1}] (n4) at (3481,2118) {Glucose <= 0.975\\gini = 0.5\\samples = 2\\value = [1, 1]\\class = Healthy};
	\draw [edge] (m6) -- (n4);
	% level 14
	\node [leaf, val={1}{0}] (o1) at (3390,2276) {gini = 0.0\\samples = 1\\value = [1, 0]\\class = Healthy};
	\draw [edge] (n4) -- (o1);
	\node [leaf, val={0}{1}] (o2) at (3573,2276) {gini = 0.0\\samples = 1\\value = [0, 1]\\class = Diabetic};
	\draw [edge] (n4) -- (o2);
\end{tikzpicture}
\end{document}
